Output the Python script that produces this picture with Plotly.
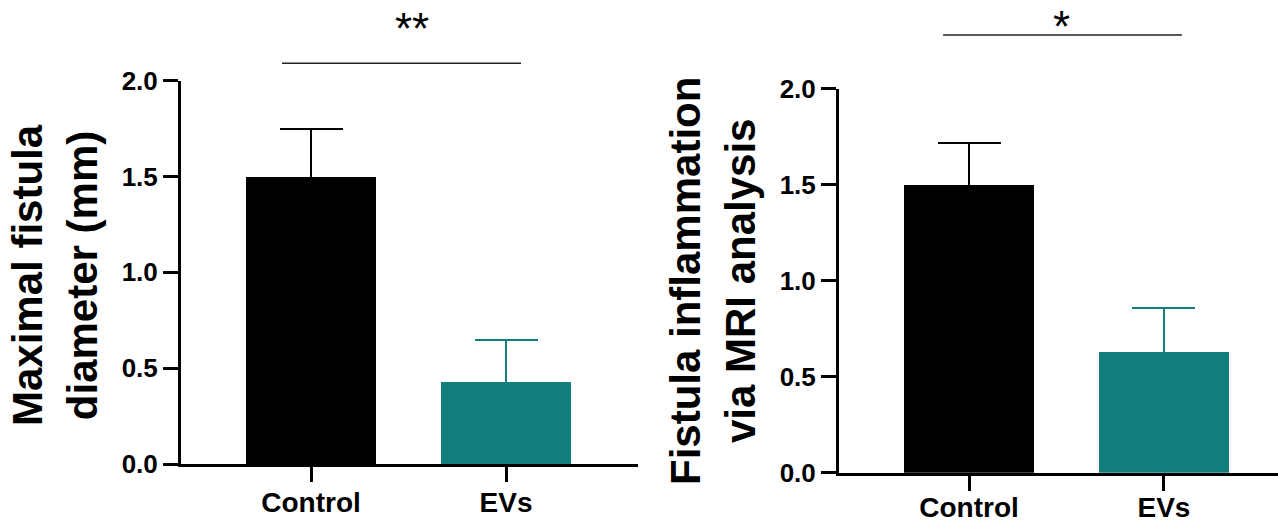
import plotly.graph_objects as go

# ---- data ----
categories = ["Control", "EVs"]
diameter_mean = [1.50, 0.43]
diameter_err = [0.25, 0.215]
mri_mean = [1.50, 0.63]
mri_err = [0.215, 0.23]
bar_colors = ["#000000", "#117f7d"]
y_ticks = [0.0, 0.5, 1.0, 1.5, 2.0]
y_ticktext = ["0.0", "0.5", "1.0", "1.5", "2.0"]
sig_left = "**"
sig_right = "*"
title_left = "Maximal fistula<br>diameter (mm)"
title_right = "Fistula inflammation<br>via MRI analysis"

W, H = 1278, 520
FONT = "Liberation Sans, Arial, sans-serif"

fig = go.Figure()

def add_bars(means, errs, xa, ya):
    for i, cat in enumerate(categories):
        fig.add_trace(go.Bar(
            x=[cat], y=[means[i]], width=0.667,
            marker=dict(color=bar_colors[i], line=dict(width=0)),
            error_y=dict(type="data", array=[errs[i]], symmetric=True,
                         color=bar_colors[i], thickness=2, width=31.5),
            xaxis=xa, yaxis=ya, showlegend=False,
        ))

add_bars(diameter_mean, diameter_err, "x", "y")
add_bars(mri_mean, mri_err, "x2", "y2")

axis_common = dict(showline=True, linecolor="black", linewidth=3, ticks="outside",
                   ticklen=15, tickwidth=3, tickcolor="black", showgrid=False,
                   zeroline=False, mirror=False, automargin=False)

xfont = dict(family=FONT, size=28, color="black", weight="bold")
yfont = dict(family=FONT, size=26, color="black", weight="bold")

fig.update_layout(
    width=W, height=H, margin=dict(l=0, r=0, t=0, b=0, autoexpand=False),
    plot_bgcolor="white", paper_bgcolor="white", bargap=0,
    xaxis=dict(domain=[181 / W, 638 / W], range=[-0.667, 1.677], type="category",
               categoryorder="array", categoryarray=categories, anchor="y",
               tickfont=xfont, ticklabelstandoff=-4, **axis_common),
    yaxis=dict(domain=[1 - 464 / H, 1 - 80.7 / H], range=[0, 2], anchor="x",
               tickvals=y_ticks, ticktext=y_ticktext, tickfont=yfont, **axis_common),
    xaxis2=dict(domain=[839 / W, 1.0], range=[-0.667, 1.585], type="category",
                categoryorder="array", categoryarray=categories, anchor="y2",
                tickfont=xfont, ticklabelstandoff=-7, **axis_common),
    yaxis2=dict(domain=[1 - 472.7 / H, 1 - 88.7 / H], range=[0, 2], anchor="x2",
                tickvals=y_ticks, ticktext=y_ticktext, tickfont=yfont, **axis_common),
)

# significance lines
fig.add_shape(type="line", xref="x", yref="paper", x0=-0.149, x1=1.077,
              y0=1 - 63.3 / H, y1=1 - 63.3 / H, line=dict(color="#222222", width=1.6))
fig.add_shape(type="line", xref="x2", yref="paper", x0=-0.133, x1=1.092,
              y0=1 - 35 / H, y1=1 - 35 / H, line=dict(color="#222222", width=1.6))

fig.add_annotation(text=sig_left, xref="x", yref="paper", x=0.518, y=1 - 28 / H,
                   showarrow=False, xanchor="center", yanchor="middle",
                   font=dict(family=FONT, size=44, color="black"))
fig.add_annotation(text=sig_right, xref="x2", yref="paper", x=0.472, y=1 - 26 / H,
                   showarrow=False, xanchor="center", yanchor="middle",
                   font=dict(family=FONT, size=44, color="black"))

# y-axis titles
fig.add_annotation(text=title_left, xref="paper", yref="paper", x=55 / W, y=1 - 275 / H,
                   showarrow=False, textangle=-90, xanchor="center", yanchor="middle",
                   font=dict(family=FONT, size=42, color="black", weight="bold"))
fig.add_annotation(text=title_right, xref="paper", yref="paper", x=713 / W, y=1 - 281 / H,
                   showarrow=False, textangle=-90, xanchor="center", yanchor="middle",
                   font=dict(family=FONT, size=42, color="black", weight="bold"))

fig.write_html("out.html", config={"displayModeBar": False},
               post_script="document.body.style.margin='0';document.body.style.overflow='hidden';")
